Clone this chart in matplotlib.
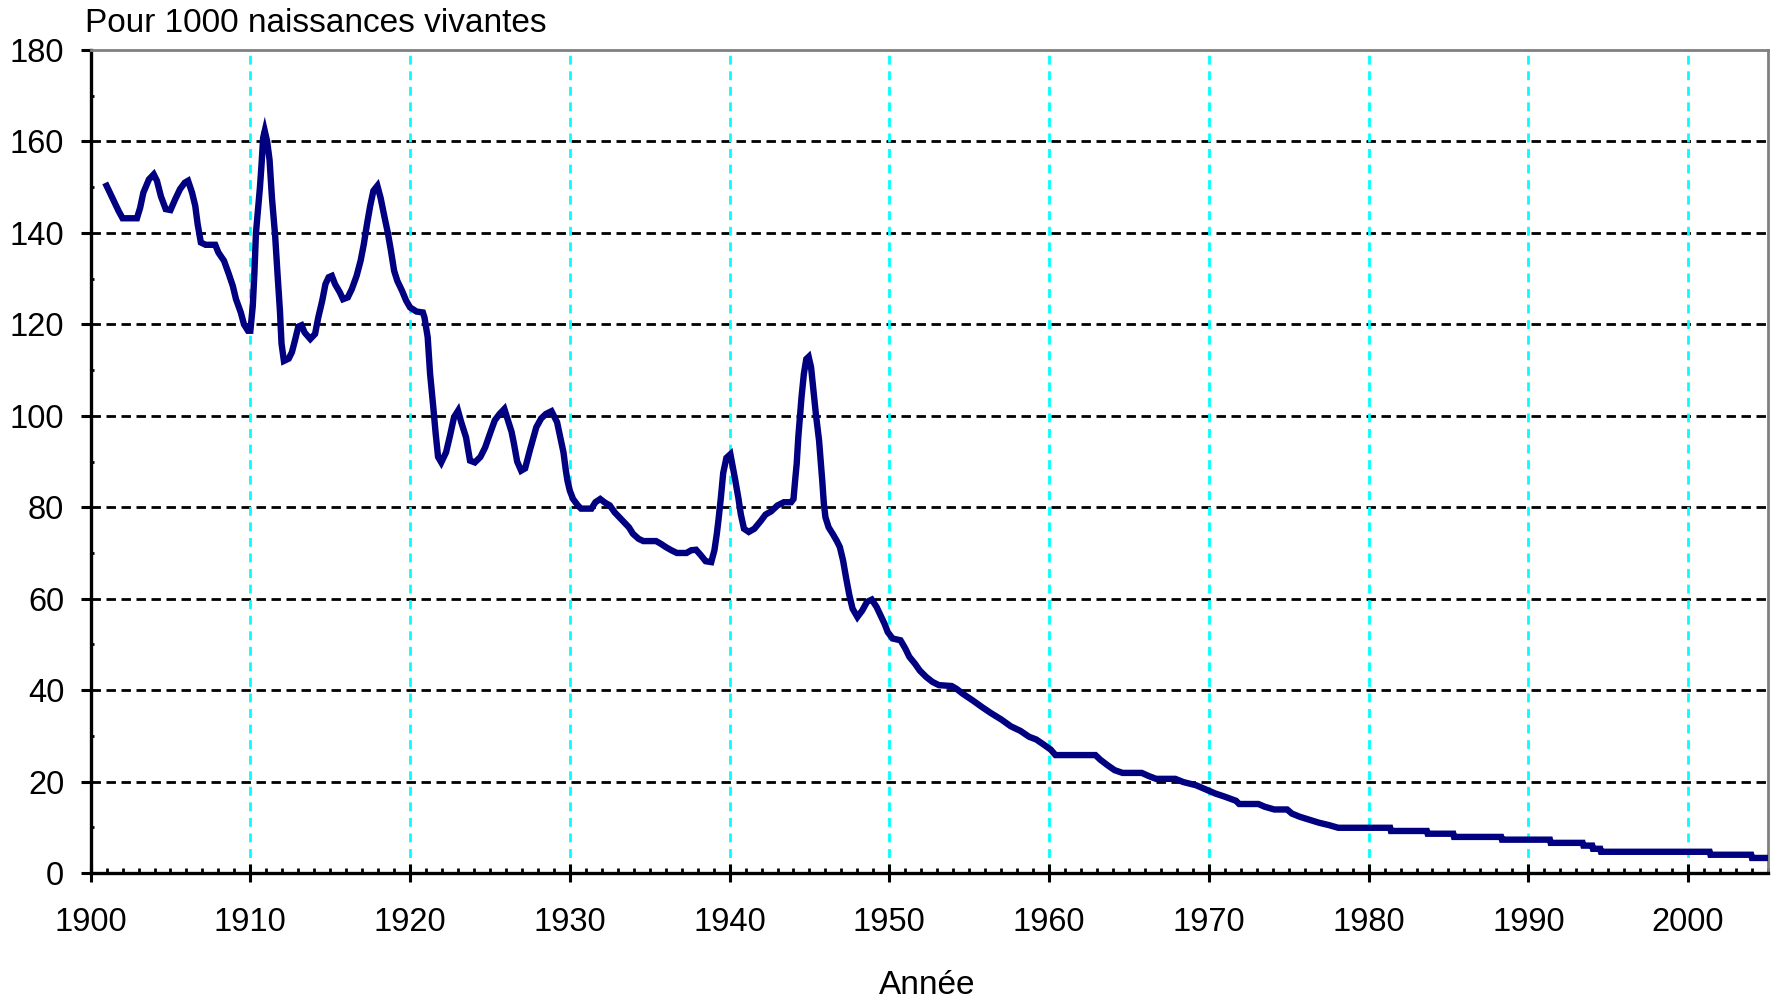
import numpy as np
import matplotlib
matplotlib.use("Agg")
from matplotlib import pyplot

# Mortalité infantile, pour 1000 naissances vivantes
annee = [
    1901.0, 1901.45, 1901.75, 1902.0, 1902.9, 1903.1, 1903.3, 1903.65, 1903.95, 1904.15,
    1904.4, 1904.7, 1905.0, 1905.3, 1905.6, 1905.9, 1906.1, 1906.35, 1906.55, 1906.7,
    1906.9, 1907.2, 1907.8, 1908.0, 1908.35, 1908.65, 1908.9, 1909.1, 1909.4, 1909.6,
    1909.85, 1910.0, 1910.15, 1910.25, 1910.35, 1910.5, 1910.6, 1910.7, 1910.8, 1910.9,
    1911.05, 1911.2, 1911.35, 1911.55, 1911.7, 1911.85, 1911.95, 1912.1, 1912.4, 1912.6,
    1912.8, 1913.0, 1913.2, 1913.4, 1913.75, 1914.05, 1914.25, 1914.5, 1914.7, 1914.9,
    1915.1, 1915.3, 1915.6, 1915.8, 1916.1, 1916.35, 1916.65, 1916.9, 1917.1, 1917.3,
    1917.5, 1917.7, 1917.95, 1918.15, 1918.4, 1918.6, 1918.8, 1919.0, 1919.2, 1919.5,
    1919.75, 1920.0, 1920.4, 1920.8, 1920.9, 1921.1, 1921.25, 1921.45, 1921.6, 1921.75,
    1921.95, 1922.25, 1922.5, 1922.75, 1923.0, 1923.2, 1923.5, 1923.75, 1924.05, 1924.4,
    1924.7, 1925.0, 1925.3, 1925.6, 1925.9, 1926.1, 1926.35, 1926.5, 1926.7, 1926.95,
    1927.2, 1927.5, 1927.7, 1927.9, 1928.2, 1928.5, 1928.85, 1929.2, 1929.4, 1929.6,
    1929.75, 1929.85, 1930.0, 1930.2, 1930.5, 1930.7, 1931.35, 1931.6, 1931.9, 1932.2,
    1932.5, 1932.8, 1933.1, 1933.4, 1933.7, 1933.95, 1934.3, 1934.6, 1935.4, 1935.7,
    1936.0, 1936.35, 1936.7, 1937.3, 1937.6, 1937.9, 1938.2, 1938.5, 1938.85, 1939.05,
    1939.2, 1939.3, 1939.45, 1939.6, 1939.8, 1940.05, 1940.2, 1940.35, 1940.55, 1940.7,
    1940.9, 1941.2, 1941.55, 1941.95, 1942.25, 1942.6, 1943.0, 1943.4, 1943.85, 1944.0,
    1944.1, 1944.2, 1944.3, 1944.4, 1944.5, 1944.65, 1944.8, 1944.95, 1945.1, 1945.25,
    1945.4, 1945.6, 1945.8, 1945.9, 1946.0, 1946.2, 1946.45, 1946.7, 1946.9, 1947.1,
    1947.3, 1947.5, 1947.7, 1948.0, 1948.3, 1948.6, 1948.9, 1949.2, 1949.4, 1949.7,
    1949.9, 1950.2, 1950.7, 1951.0, 1951.25, 1951.6, 1951.9, 1952.3, 1952.7, 1953.1,
    1953.9, 1954.2, 1954.6, 1955.2, 1955.8, 1956.35, 1957.0, 1957.6, 1958.2, 1958.75,
    1959.2, 1959.7, 1960.1, 1960.4, 1962.9, 1963.2, 1963.65, 1964.1, 1964.6, 1965.8,
    1966.25, 1966.7, 1967.9, 1968.4, 1969.2, 1969.8, 1970.4, 1971.0, 1971.7, 1971.9,
    1973.1, 1973.5, 1974.1, 1974.9, 1975.2, 1975.7, 1976.25, 1976.9, 1977.5, 1978.1,
    1981.35, 1981.4, 1983.65, 1983.7, 1985.3, 1985.35, 1988.3, 1988.35, 1991.35, 1991.4,
    1993.4, 1993.45, 1994.0, 1994.05, 1994.5, 1994.55, 2001.35, 2001.4, 2003.95, 2004.0,
    2005.0,
]
taux = [
    150.3, 147.0, 144.8, 143.2, 143.2, 145.5, 148.8, 151.7, 152.8, 151.4,
    148.0, 145.2, 145.0, 147.4, 149.6, 151.0, 151.4, 148.8, 145.9, 141.9,
    137.9, 137.4, 137.4, 135.7, 133.9, 131.0, 128.4, 125.5, 122.6, 120.0,
    118.6, 118.6, 124.0, 131.0, 140.0, 146.0, 150.0, 155.0, 160.8, 162.3,
    160.0, 156.0, 147.7, 139.4, 131.0, 123.0, 115.8, 112.0, 112.5, 113.9,
    116.6, 119.5, 119.8, 118.2, 116.8, 117.9, 121.5, 125.2, 128.8, 130.3,
    130.6, 128.8, 127.0, 125.5, 125.9, 127.7, 130.6, 133.9, 137.5, 141.9,
    145.9, 149.2, 150.3, 147.7, 143.4, 140.1, 136.1, 131.7, 129.5, 127.3,
    125.2, 123.7, 122.8, 122.6, 121.5, 117.2, 109.2, 101.9, 96.1, 91.0,
    89.8, 92.0, 95.7, 99.7, 101.1, 98.6, 95.3, 90.2, 89.8, 91.0,
    93.1, 96.1, 99.0, 100.4, 101.5, 99.3, 96.5, 93.9, 90.0, 88.0,
    88.5, 92.5, 95.0, 97.5, 99.4, 100.4, 101.0, 98.6, 95.3, 92.0,
    88.0, 85.8, 83.6, 81.8, 80.4, 79.7, 79.7, 81.1, 81.8, 81.0,
    80.4, 78.9, 77.8, 76.7, 75.6, 74.2, 73.1, 72.6, 72.6, 72.0,
    71.3, 70.6, 70.0, 70.0, 70.6, 70.7, 69.5, 68.2, 68.0, 70.6,
    74.2, 77.1, 82.0, 87.5, 90.8, 91.6, 88.8, 86.0, 82.0, 78.5,
    75.3, 74.6, 75.3, 77.0, 78.4, 79.1, 80.4, 81.1, 81.1, 81.8,
    85.8, 89.5, 95.3, 99.7, 104.0, 109.2, 112.4, 112.9, 110.6, 105.5,
    100.4, 94.6, 85.8, 80.8, 77.8, 75.6, 74.2, 72.7, 71.3, 68.4,
    64.4, 60.7, 57.8, 56.0, 57.4, 59.3, 59.8, 58.2, 56.7, 54.5,
    52.7, 51.3, 50.9, 49.1, 47.3, 45.8, 44.3, 42.9, 41.8, 41.1,
    40.9, 40.3, 39.2, 37.8, 36.3, 35.0, 33.6, 32.1, 31.1, 29.8,
    29.2, 28.0, 27.0, 25.8, 25.8, 24.8, 23.6, 22.5, 21.9, 21.9,
    21.2, 20.6, 20.6, 19.9, 19.2, 18.3, 17.4, 16.7, 15.8, 15.1,
    15.1, 14.5, 13.9, 13.9, 13.0, 12.3, 11.7, 11.0, 10.5, 9.9,
    9.9, 9.2, 9.2, 8.6, 8.6, 7.9, 7.9, 7.3, 7.3, 6.6,
    6.6, 6.0, 6.0, 5.3, 5.3, 4.65, 4.65, 4.0, 4.0, 3.3,
    3.3,
]

annees_majeures = np.arange(1900, 2001, 10)
valeurs_majeures = np.arange(0, 181, 20)

pyplot.rcParams['font.family'] = ['Liberation Sans', 'DejaVu Sans']

fig = pyplot.figure(figsize=(17.77, 10.02), dpi=100)
ax = fig.add_axes([0.0510, 0.1287, 0.9439, 0.8214])

ax.plot(annee, taux, color="#000080", linewidth=4.6, solid_joinstyle="miter", zorder=3)

ax.set_xlim(1900, 2005)
ax.set_ylim(0, 180)

ax.set_xticks(annees_majeures)
ax.set_xticks(np.arange(1900, 2006, 1), minor=True)
ax.set_yticks(valeurs_majeures)
ax.set_yticks(np.arange(0, 181, 10), minor=True)

# grille : noire en pointillés pour y, cyan pour x
for v in valeurs_majeures[1:-1]:
    ax.axhline(v, color="black", linewidth=2.0, dashes=(3.4, 2.0), zorder=1)
for a in annees_majeures[1:]:
    ax.axvline(a, color="#00FFFF", linewidth=2.0, dashes=(3.2, 2.4), zorder=1)

ax.tick_params(axis="x", which="major", direction="inout", length=13.5, width=2.2,
               labelsize=23.5, pad=18)
ax.tick_params(axis="x", which="minor", direction="in", length=3.5, width=2.0)
ax.tick_params(axis="y", which="major", direction="out", length=7, width=2.2,
               labelsize=23.5, pad=12)
ax.tick_params(axis="y", which="minor", direction="in", length=2.5, width=2.0)

for s in ["left", "bottom"]:
    ax.spines[s].set_color("black")
    ax.spines[s].set_linewidth(2.4)
for s in ["top", "right"]:
    ax.spines[s].set_color("#808080")
    ax.spines[s].set_linewidth(2.0)

fig.text(85 / 1777, 1 - 32 / 1002, "Pour 1000 naissances vivantes", fontsize=24,
         ha="left", va="baseline")
fig.text(927 / 1777, 1 - 994 / 1002, "Année", fontsize=24, ha="center", va="baseline")

fig.savefig("out.png", dpi=100)
